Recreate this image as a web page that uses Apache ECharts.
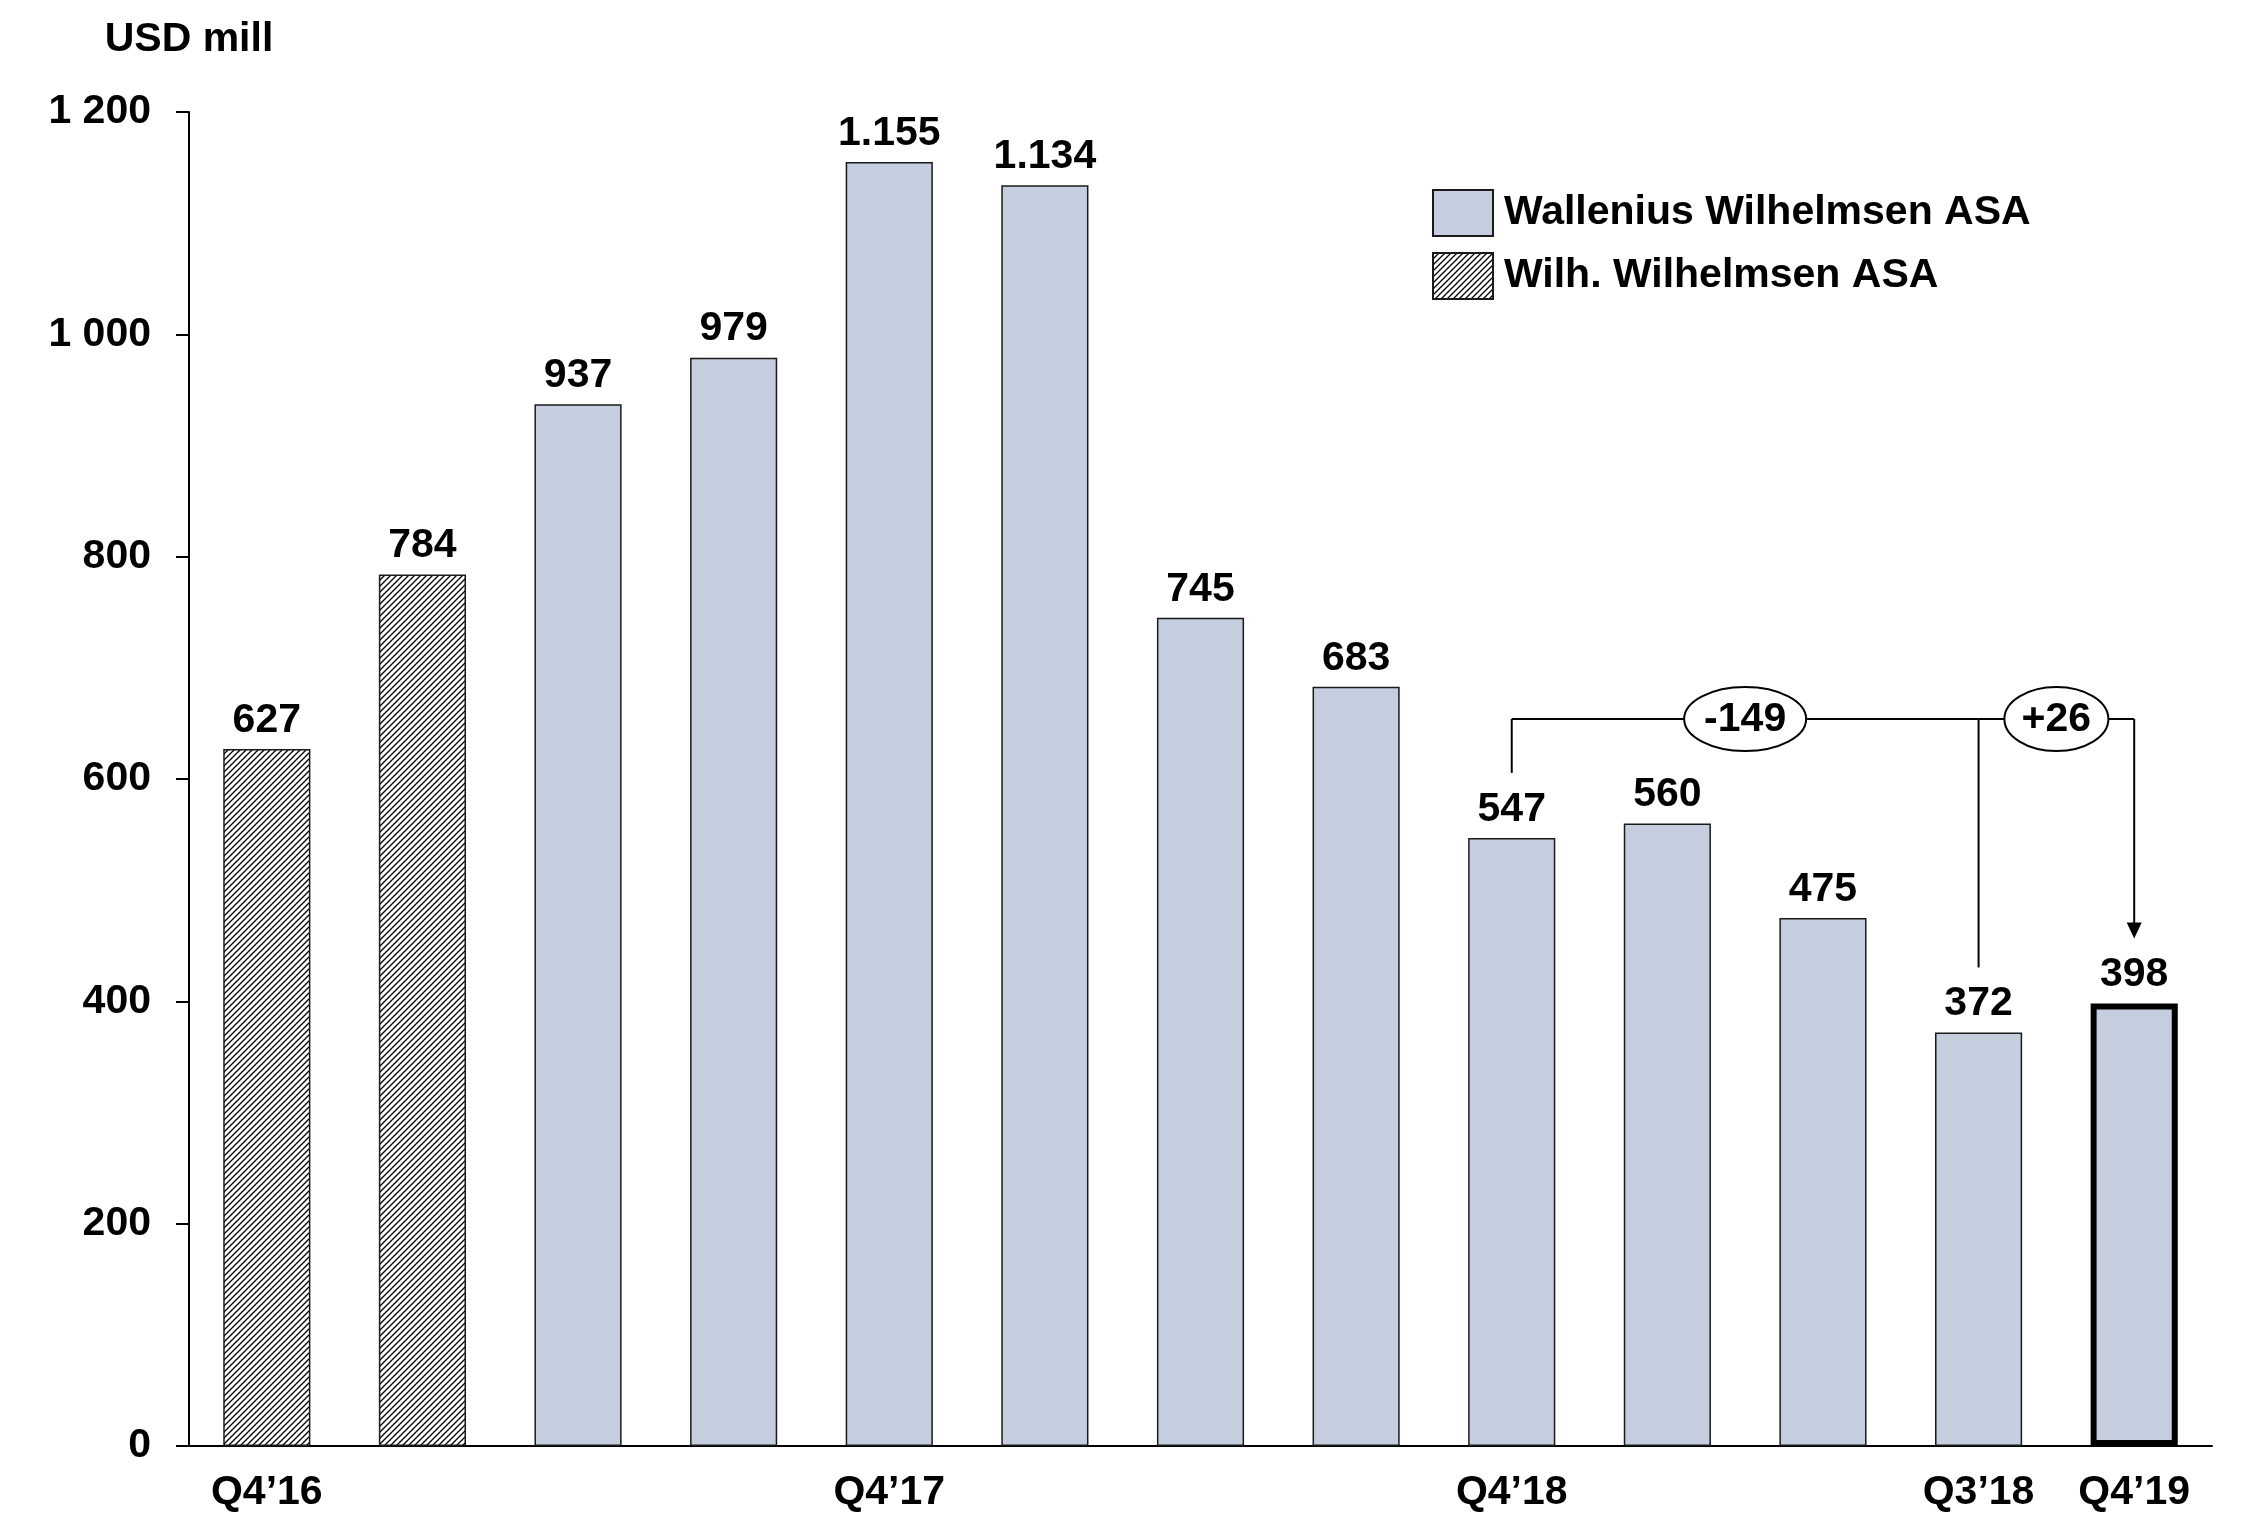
<!DOCTYPE html>
<html>
<head>
<meta charset="utf-8">
<title>USD mill</title>
<script src="https://cdn.jsdelivr.net/npm/echarts@6/dist/echarts.min.js"></script>
<style>
  html, body { margin: 0; padding: 0; background: #fff; }
  #chart { width: 2245px; height: 1513px; }
</style>
</head>
<body>
<div id="chart"></div>
<script>
// Quarter categories along the x axis
const categories = ['Q4’16', 'Q1’17', 'Q2’17', 'Q3’17', 'Q4’17', 'Q1’18', 'Q2’18',
                    'Q3’18', 'Q4’18', 'Q1’19', 'Q2’19', 'Q3’19', 'Q4’19'];
// Labels printed under the axis (only a few quarters are named)
const tickLabels = ['Q4’16', '', '', '', 'Q4’17', '', '', '', 'Q4’18', '', '', 'Q3’18', 'Q4’19'];

// USD mill per quarter
const wilhValues = [627, 784, null, null, null, null, null, null, null, null, null, null, null];
const walleniusValues = [null, null, 937, 979, 1155, 1134, 745, 683, 547, 560, 475, 372, 398];

// Value axis
const yMin = 0;
const yMax = 1200;
const yStep = 200;

// Change brackets drawn above the bars
const changes = [
  { from: 8, to: 11, text: '-149' },
  { from: 11, to: 12, text: '+26', arrow: true }
];
const bracketLevel = 654;

const FONT = '"Liberation Sans", Arial, Helvetica, sans-serif';
const FS = 41;

function withSeparator(v, sep) {
  if (v >= 1000) {
    return Math.floor(v / 1000) + sep + String(v % 1000).padStart(3, '0');
  }
  return String(v);
}

// Diagonal hatch fill for the Wilh. Wilhelmsen bars
function hatchPattern() {
  const s = 6;
  const c = document.createElement('canvas');
  c.width = s; c.height = s;
  const g = c.getContext('2d');
  g.fillStyle = '#ffffff';
  g.fillRect(0, 0, s, s);
  g.strokeStyle = '#000000';
  g.lineWidth = 1.3;
  g.beginPath();
  g.moveTo(0, s); g.lineTo(s, 0);
  g.moveTo(-2, 2); g.lineTo(2, -2);
  g.moveTo(s - 2, s + 2); g.lineTo(s + 2, s - 2);
  g.stroke();
  return c;
}

const chart = echarts.init(document.getElementById('chart'), null, { renderer: 'canvas' });

const labelStyle = {
  show: true,
  position: 'top',
  distance: 8,
  fontFamily: FONT,
  fontWeight: 'bold',
  fontSize: FS,
  color: '#000',
  formatter: p => withSeparator(p.value, '.')
};

const lastIndex = walleniusValues.length - 1;
const walleniusData = walleniusValues.map((v, i) => {
  if (i === lastIndex) {
    return { value: v, itemStyle: { borderColor: '#000', borderWidth: 6 } };
  }
  return v;
});

chart.setOption({
  animation: false,
  backgroundColor: '#ffffff',
  textStyle: { fontFamily: FONT },
  grid: { left: 189, right: 33, top: 112, bottom: 63, containLabel: false },
  legend: {
    orient: 'vertical',
    left: 1432,
    top: 189,
    padding: 0,
    itemWidth: 60,
    itemHeight: 46,
    itemGap: 15,
    icon: 'rect',
    data: ['Wallenius Wilhelmsen ASA', 'Wilh. Wilhelmsen ASA'],
    textStyle: { fontFamily: FONT, fontWeight: 'bold', fontSize: FS, color: '#000', padding: [4, 0, 0, 6] },
    selectedMode: false
  },
  xAxis: {
    type: 'category',
    data: categories,
    axisLine: { show: true, lineStyle: { color: '#000', width: 2 } },
    axisTick: { show: false },
    axisLabel: {
      interval: 0,
      margin: 26,
      fontFamily: FONT,
      fontWeight: 'bold',
      fontSize: FS,
      color: '#000',
      formatter: (val, idx) => tickLabels[idx]
    },
    splitLine: { show: false }
  },
  yAxis: {
    type: 'value',
    min: yMin,
    max: yMax,
    interval: yStep,
    name: 'USD mill',
    nameLocation: 'end',
    nameGap: 72,
    nameTextStyle: {
      fontFamily: FONT, fontWeight: 'bold', fontSize: FS, color: '#000',
      align: 'center', verticalAlign: 'middle'
    },
    axisLine: { show: true, lineStyle: { color: '#000', width: 2 } },
    axisTick: { show: true, inside: false, length: 13, lineStyle: { color: '#000', width: 2 } },
    axisLabel: {
      margin: 38,
      fontFamily: FONT,
      fontWeight: 'bold',
      fontSize: FS,
      color: '#000',
      formatter: v => withSeparator(v, ' ')
    },
    splitLine: { show: false }
  },
  series: [
    {
      name: 'Wallenius Wilhelmsen ASA',
      type: 'bar',
      data: walleniusData,
      barWidth: '56%',
      barGap: '-100%',
      itemStyle: { color: '#C4CEDF', borderColor: '#1a1a1a', borderWidth: 1.5 },
      label: labelStyle,
      z: 2
    },
    {
      name: 'Wilh. Wilhelmsen ASA',
      type: 'bar',
      data: wilhValues,
      barWidth: '56%',
      barGap: '-100%',
      itemStyle: {
        color: { image: hatchPattern(), repeat: 'repeat' },
        borderColor: '#1a1a1a',
        borderWidth: 1.5
      },
      label: labelStyle,
      z: 2
    }
  ]
});

// Brackets with the change between two quarters
function drawBrackets() {
  const toPx = (i, v) => chart.convertToPixel({ xAxisIndex: 0, yAxisIndex: 0 }, [i, v]);
  const yLine = toPx(0, bracketLevel)[1];
  const gap = 65;
  const els = [];
  const lineStyle = { stroke: '#000', lineWidth: 2, fill: null };

  changes.forEach((c) => {
    const xa = toPx(c.from, 0)[0];
    const xb = toPx(c.to, 0)[0];
    const topA = toPx(c.from, walleniusValues[c.from])[1] - gap;
    const topB = toPx(c.to, walleniusValues[c.to])[1] - gap;
    // horizontal run
    els.push({ type: 'line', shape: { x1: xa, y1: yLine, x2: xb, y2: yLine }, style: lineStyle, z: 10 });
    // start leg
    els.push({ type: 'line', shape: { x1: xa, y1: yLine, x2: xa, y2: topA }, style: lineStyle, z: 10 });
    if (c.arrow) {
      const head = 16;
      els.push({ type: 'line', shape: { x1: xb, y1: yLine, x2: xb, y2: topB - head + 1 }, style: lineStyle, z: 10 });
      els.push({
        type: 'polygon',
        shape: { points: [[xb - 7.5, topB - head], [xb + 7.5, topB - head], [xb, topB]] },
        style: { fill: '#000' }, z: 10
      });
    }
    // change bubble
    const cx = (xa + xb) / 2;
    const rx = c.text.length > 3 ? 61 : 52;
    els.push({
      type: 'ellipse',
      shape: { cx: cx, cy: yLine, rx: rx, ry: 32 },
      style: { fill: '#fff', stroke: '#000', lineWidth: 2 },
      z: 11
    });
    els.push({
      type: 'text',
      x: cx, y: yLine + 1,
      style: {
        text: c.text, fontFamily: FONT, fontWeight: 'bold', fontSize: FS,
        fill: '#000', align: 'center', verticalAlign: 'middle'
      },
      z: 12
    });
  });
  chart.setOption({ graphic: els });
}
drawBrackets();
</script>
</body>
</html>
